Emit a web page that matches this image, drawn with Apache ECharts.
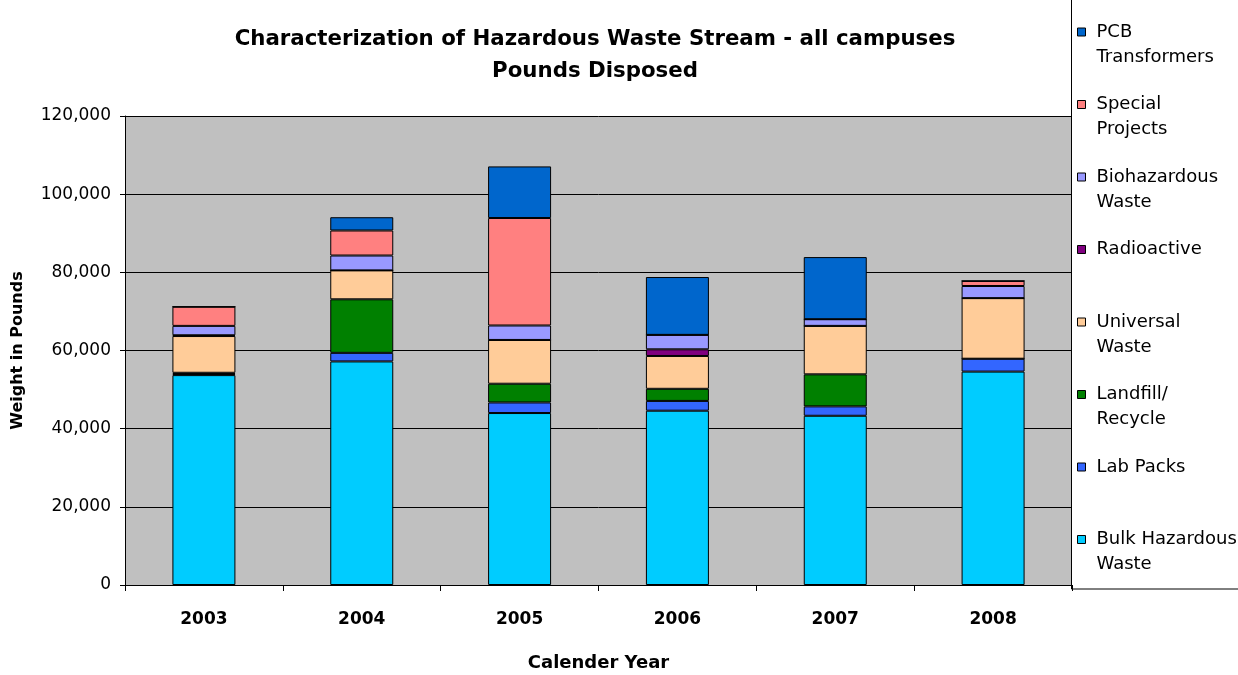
<!DOCTYPE html>
<html>
<head>
<meta charset="utf-8">
<title>Hazardous Waste Stream</title>
<script src="https://cdn.jsdelivr.net/npm/echarts@6/dist/echarts.min.js"></script>
<style>
  html, body { margin: 0; padding: 0; background: #fff; }
  #chart { width: 1238px; height: 675px; }
</style>
</head>
<body>
<div id="chart"></div>
<script>
// data (pounds)
var years = ['2003', '2004', '2005', '2006', '2007', '2008'];
var bulkHazardous = [53700, 57200, 44000, 44600, 43300, 54600];
var labPacks      = [300, 2200, 2700, 2500, 2400, 3300];
var landfill      = [300, 13700, 4800, 3100, 8200, 0];
var universal     = [9400, 7400, 11200, 8400, 12400, 15500];
var radioactive   = [200, 0, 0, 1700, 0, 0];
var biohazardous  = [2400, 3800, 3700, 3700, 1700, 3100];
var specialProj   = [4900, 6400, 27500, 0, 0, 1300];
var pcb           = [0, 3400, 13200, 14800, 15900, 0];
var yTicks = [0, 20000, 40000, 60000, 80000, 100000, 120000];

var FONT = 'DejaVu Sans, Verdana, sans-serif';

var seriesDefs = [
  { name: 'Bulk Hazardous\nWaste', data: bulkHazardous, color: '#00CCFF' },
  { name: 'Lab Packs', data: labPacks, color: '#3366FF' },
  { name: 'Landfill/\nRecycle', data: landfill, color: '#008000' },
  { name: 'Universal\nWaste', data: universal, color: '#FFCC99' },
  { name: 'Radioactive', data: radioactive, color: '#800080' },
  { name: 'Biohazardous\nWaste', data: biohazardous, color: '#9999FF' },
  { name: 'Special\nProjects', data: specialProj, color: '#FF8080' },
  { name: 'PCB\nTransformers', data: pcb, color: '#0066CC' }
];

var series = seriesDefs.map(function (s) {
  return {
    name: s.name,
    type: 'bar',
    stack: 'total',
    barWidth: 63,
    data: s.data,
    itemStyle: { color: s.color, borderColor: '#000', borderWidth: 1 }
  };
});

var legendOrder = seriesDefs.map(function (s) { return s.name; }).reverse();

var chart = echarts.init(document.getElementById('chart'));
var option = {
  animation: false,
  textStyle: { fontFamily: FONT },
  title: {
    text: 'Characterization of Hazardous Waste Stream - all campuses\nPounds Disposed',
    left: 590,
    top: 18,
    textAlign: 'center',
    textStyle: { fontSize: 21.3, fontWeight: 'bold', color: '#000', lineHeight: 32, fontFamily: FONT }
  },
  graphic: [{
    type: 'rect',
    z: 0,
    shape: { x: 1071.5, y: -1, width: 200, height: 590 },
    style: { fill: '#fff', stroke: '#000', lineWidth: 1 }
  }],
  legend: {
    orient: 'vertical',
    left: 1077,
    top: -5.5,
    padding: 0,
    itemGap: -2.5,
    itemWidth: 14,
    itemHeight: 8,
    icon: 'path://M0,0h8v8h-8z M14,0',
    data: legendOrder,
    // blank first line keeps the swatch level with the first text line
    formatter: function (name) {
      return ' \n' + (name.indexOf('\n') < 0 ? name + '\n ' : name);
    },
    itemStyle: { borderColor: '#000', borderWidth: 1 },
    textStyle: { fontSize: 18, color: '#000', lineHeight: 25, fontFamily: FONT }
  },
  grid: {
    left: 125,
    right: 166,
    top: 116,
    bottom: 90,
    outerBoundsMode: 'none',
    containLabel: false,
    show: true,
    backgroundColor: '#C0C0C0',
    borderWidth: 0
  },
  xAxis: {
    type: 'category',
    data: years,
    name: 'Calender Year',
    nameLocation: 'middle',
    nameGap: 69,
    nameTextStyle: { fontSize: 18, fontWeight: 'bold', color: '#000', fontFamily: FONT },
    axisLine: { lineStyle: { color: '#000', width: 1 } },
    axisTick: { show: true, length: 6, lineStyle: { color: '#000' } },
    axisLabel: { fontSize: 17, fontWeight: 'bold', color: '#000', margin: 26, fontFamily: FONT }
  },
  yAxis: {
    type: 'value',
    min: 0,
    max: yTicks[yTicks.length - 1],
    interval: yTicks[1] - yTicks[0],
    name: 'Weight in Pounds',
    nameLocation: 'middle',
    nameGap: 99,
    nameTextStyle: { fontSize: 16, fontWeight: 'bold', color: '#000', fontFamily: FONT },
    axisLine: { show: true, lineStyle: { color: '#000', width: 1 } },
    axisTick: { show: true, length: 5, lineStyle: { color: '#000' } },
    splitLine: { show: true, lineStyle: { color: '#000', width: 1 } },
    axisLabel: {
      fontSize: 17,
      color: '#000',
      margin: 14,
      fontFamily: FONT,
      formatter: function (v) { return v.toLocaleString('en-US'); }
    }
  },
  series: series
};
chart.setOption(option);
</script>
</body>
</html>
